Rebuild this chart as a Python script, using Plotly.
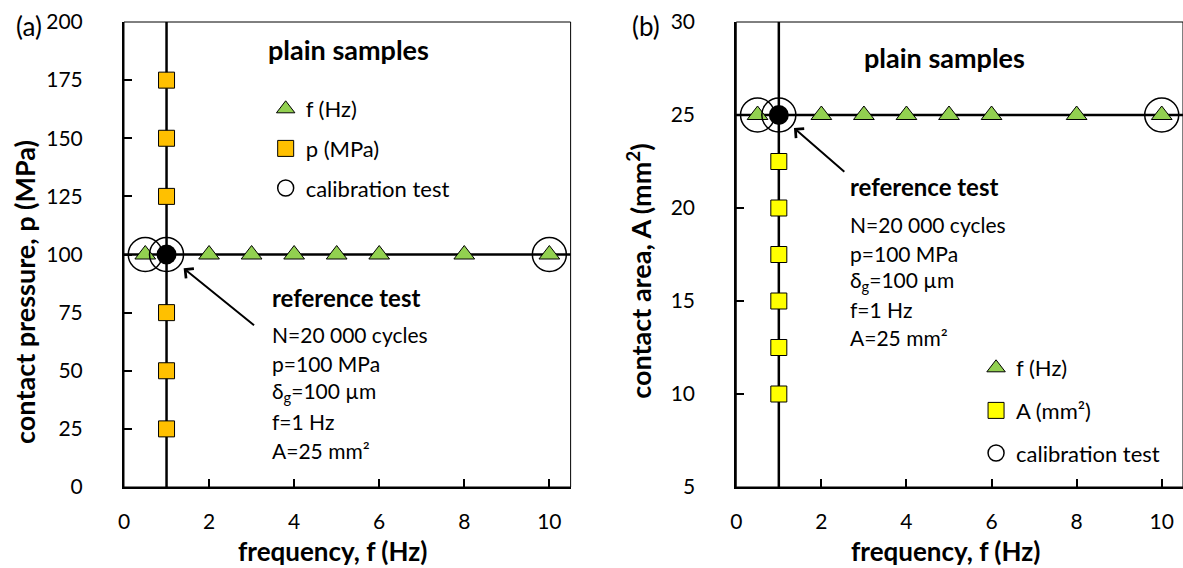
import plotly.graph_objects as go
from plotly.subplots import make_subplots

# data
f_ref = 1
f_vals = [0.5, 2, 3, 4, 5, 6, 8, 10]
calib_f = [0.5, 1, 10]

p_ref = 100
p_vals = [25, 50, 75, 125, 150, 175]

A_ref = 25
A_vals = [10, 12.5, 15, 17.5, 20, 22.5]

x_ticks = [0, 2, 4, 6, 8, 10]
p_ticks = [0, 25, 50, 75, 100, 125, 150, 175, 200]
A_ticks = [5, 10, 15, 20, 25, 30]

ref_lines = ["N=20 000 cycles", "p=100 MPa", "δ<sub>g</sub>=100 µm", "f=1 Hz", "A=25 mm²"]

FONT = "Lato"
GREEN = "#92D050"
ORANGE = "#FFC000"
YELLOW = "#FFFF00"

fig = make_subplots(rows=1, cols=2)

def add_panel(col, y_ref, y_vals, sq_color, sq_name, leg):
    xa = "x" if col == 1 else "x2"
    ya = "y" if col == 1 else "y2"
    fig.add_trace(go.Scatter(x=f_vals, y=[y_ref] * len(f_vals), mode="markers", name="f (Hz)",
                             marker=dict(symbol="triangle-up", size=18, color=GREEN, line=dict(color="black", width=1)),
                             legend=leg, legendgroup=leg + "f"), row=1, col=col)
    fig.add_trace(go.Scatter(x=[f_ref] * len(y_vals), y=y_vals, mode="markers", name=sq_name,
                             marker=dict(symbol="square", size=16, color=sq_color, line=dict(color="black", width=1)),
                             legend=leg, legendgroup=leg + "s"), row=1, col=col)
    fig.add_trace(go.Scatter(x=[f_ref], y=[y_ref], mode="markers", showlegend=False,
                             marker=dict(symbol="circle", size=20, color="black")), row=1, col=col)
    fig.add_trace(go.Scatter(x=calib_f, y=[y_ref] * len(calib_f), mode="markers", name="calibration test",
                             marker=dict(symbol="circle-open", size=34, color="black", line=dict(width=1.5)),
                             legend=leg, legendgroup=leg + "c"), row=1, col=col)
    # reference cross lines
    fig.add_shape(type="line", xref=xa, yref=ya + " domain", x0=f_ref, x1=f_ref, y0=0, y1=1,
                  line=dict(color="black", width=2.5), layer="below")
    fig.add_shape(type="line", xref=xa + " domain", yref=ya, x0=0, x1=1, y0=y_ref, y1=y_ref,
                  line=dict(color="black", width=2.5), layer="below")
    fig.add_shape(type="rect", xref=xa + " domain", yref=ya + " domain", x0=0, x1=1, y0=0, y1=1,
                  line=dict(color="black", width=1))

add_panel(1, p_ref, p_vals, ORANGE, "p (MPa)", "legend")
add_panel(2, A_ref, A_vals, YELLOW, "A (mm²)", "legend2")

W, H = 1183, 568
axis_common = dict(showgrid=False, zeroline=False, showline=True, linecolor="black", linewidth=2,
                   ticks="inside", ticklen=8, tickwidth=1.5, tickcolor="black",
                   tickfont=dict(family=FONT, size=21, color="black"))
fig.update_xaxes(**axis_common, range=[0, 10.5], tickvals=x_ticks, ticklabelstandoff=15)
fig.update_xaxes(domain=[118.6 / W, 567.5 / W], row=1, col=1)
fig.update_xaxes(domain=[734 / W, 1.0], row=1, col=2)
fig.update_yaxes(**axis_common, ticklabelstandoff=35)
fig.update_yaxes(range=[0, 200], tickvals=p_ticks, row=1, col=1)
fig.update_yaxes(range=[5, 30], tickvals=A_ticks, row=1, col=2)

def px(x):
    return x / W

def py(y):
    return 1 - (y - 22) / 465

ann = []
# panel letters
ann.append(dict(text="(a)", x=px(23), y=py(26), font=dict(size=26)))
ann.append(dict(text="(b)", x=px(643), y=py(26), font=dict(size=26)))
# axis titles
ann.append(dict(text="<b>frequency, f (Hz)</b>", x=px(328), y=py(551), font=dict(size=26)))
ann.append(dict(text="<b>frequency, f (Hz)</b>", x=px(944), y=py(551), font=dict(size=26)))
ann.append(dict(text="<b>contact pressure, p (MPa)</b>", x=px(18), y=py(292), textangle=-90, font=dict(size=27)))
ann.append(dict(text="<b>contact area, A (mm<sup>2</sup>)</b>", x=px(636), y=py(271), textangle=-90, font=dict(size=27)))
# headings
ann.append(dict(text="<b>plain samples</b>", x=px(344), y=py(50), font=dict(size=27)))
ann.append(dict(text="<b>plain samples</b>", x=px(943), y=py(57), font=dict(size=27)))
ann.append(dict(text="<b>reference test</b>", x=px(265), y=py(297), xanchor="left", font=dict(size=24)))
ann.append(dict(text="<b>reference test</b>", x=px(846), y=py(186), xanchor="left", font=dict(size=24)))
for i, t in enumerate(ref_lines):
    ann.append(dict(text=t, x=px(265), y=py(334 + 29 * i), xanchor="left", font=dict(size=21)))
    ann.append(dict(text=t, x=px(846), y=py(225 + 28 * i), xanchor="left", font=dict(size=21)))
for a in ann:
    a.setdefault("xref", "paper")
    a.setdefault("yref", "paper")
    a.setdefault("showarrow", False)
    a.setdefault("xanchor", "center")
    a["yanchor"] = "middle"
    a["font"].update(family=FONT, color="black")

# arrows to the reference test point
ann.append(dict(x=f_ref, y=p_ref, xref="x", yref="y", ax=89, ay=72, showarrow=True, text="",
                arrowhead=4, arrowsize=1.2, arrowwidth=2, arrowcolor="black", standoff=22))
ann.append(dict(x=f_ref, y=A_ref, xref="x2", yref="y2", ax=67, ay=58, showarrow=True, text="",
                arrowhead=4, arrowsize=1.2, arrowwidth=2, arrowcolor="black", standoff=20))

leg_common = dict(font=dict(family=FONT, size=22, color="black"), bgcolor="rgba(0,0,0,0)",
                  traceorder="grouped", itemsizing="trace", xanchor="left", yanchor="top")
fig.update_layout(
    width=W, height=H,
    margin=dict(l=0, r=0, t=22, b=81),
    plot_bgcolor="white", paper_bgcolor="white",
    font=dict(family=FONT, color="black"),
    annotations=ann,
    legend=dict(**leg_common, tracegroupgap=8, x=px(261), y=py(88)),
    legend2=dict(**leg_common, tracegroupgap=11, x=px(975), y=py(347)),
)

fig.write_html("out.html", config={"displayModeBar": False},
               post_script="document.body.style.margin='0px';")
